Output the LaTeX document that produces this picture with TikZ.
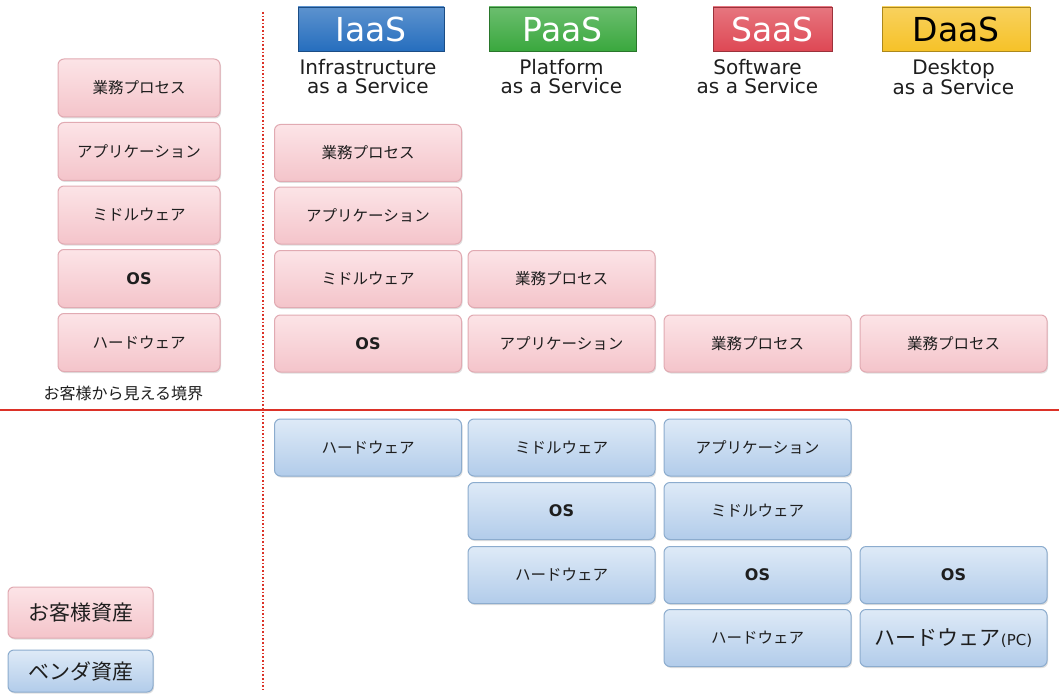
\documentclass[tikz,border=0pt]{standalone}
\usepackage{fontspec}
\setmainfont{DejaVu Sans}
\newfontfamily\jp{Noto Sans CJK JP}
\usetikzlibrary{shadows}
\definecolor{pinkA}{RGB}{252,228,231}
\definecolor{pinkB}{RGB}{244,196,202}
\definecolor{pinkE}{RGB}{225,170,178}
\definecolor{blueA}{RGB}{222,234,247}
\definecolor{blueB}{RGB}{178,204,234}
\definecolor{blueE}{RGB}{140,172,206}
\definecolor{iaasC}{RGB}{38,110,190}
\definecolor{paasC}{RGB}{58,168,62}
\definecolor{saasC}{RGB}{222,72,84}
\definecolor{daasC}{RGB}{246,194,40}
\definecolor{lineR}{RGB}{220,50,40}
\definecolor{txt}{RGB}{30,30,30}
\tikzset{
  base/.style={rounded corners=6pt, draw, line width=1pt, text=txt,
    drop shadow={shadow xshift=1pt, shadow yshift=-1.5pt, opacity=0.25}},
  pbox/.style={base, draw=pinkE, top color=pinkA, bottom color=pinkB,
    font=\jp\fontsize{15.5}{17}\selectfont},
  bbox/.style={base, draw=blueE, top color=blueA, bottom color=blueB,
    font=\jp\fontsize{15.5}{17}\selectfont},
  cw/.style={minimum width=187pt, minimum height=57pt},
  lw/.style={minimum width=162pt, minimum height=58pt},
  hbox/.style={draw=#1!70!black, line width=0.8pt, top color=#1!75!white, bottom color=#1,
    minimum height=44pt, inner sep=0pt, font=\fontsize{33}{35}\selectfont},
  sub/.style={align=center, font=\fontsize{20}{19}\selectfont, text=txt},
  os/.style={font=\bfseries\fontsize{16}{18}\selectfont}
}
\begin{document}
\begin{tikzpicture}[x=1pt,y=-1pt]
\useasboundingbox[fill=white] (0,0) rectangle (1059,695);
% lines
\coordinate (vt) at (263,12); \coordinate (vb) at (263,690);
\coordinate (hl) at (0,410); \coordinate (hr) at (1059,410);
\draw[lineR, line width=1.6pt, dotted] (vt) -- (vb);
\draw[lineR, line width=2pt] (hl) -- (hr);
% left column
\node[pbox,lw] (l1) at (139,88) {業務プロセス};
\node[pbox,lw] (l2) at (139,151.5) {アプリケーション};
\node[pbox,lw] (l3) at (139,215) {ミドルウェア};
\node[pbox,lw,os] (l4) at (139,278.5) {OS};
\node[pbox,lw] (l5) at (139,342.5) {ハードウェア};
\node[anchor=west, font=\jp\fontsize{16}{18}\selectfont, text=txt] (bd) at (40,393) {お客様から見える境界};
% headers
\node[hbox=iaasC, minimum width=146pt, text=white] (hI) at (371,29) {IaaS};
\node[hbox=paasC, minimum width=147pt, text=white] (hP) at (562.5,29) {PaaS};
\node[hbox=saasC, minimum width=119pt, text=white] (hS) at (772.5,29) {SaaS};
\node[hbox=daasC, minimum width=148pt, text=black] (hD) at (956,29) {DaaS};
\node[sub] (sI) at (368,77) {Infrastructure\\as a Service};
\node[sub] (sP) at (561.5,77) {Platform\\as a Service};
\node[sub] (sS) at (757.5,77) {Software\\as a Service};
\node[sub] (sD) at (953.5,77) {Desktop\\as a Service};
% IaaS column
\node[pbox,cw] (i1) at (368,153) {業務プロセス};
\node[pbox,cw] (i2) at (368,215.5) {アプリケーション};
\node[pbox,cw] (i3) at (368,279) {ミドルウェア};
\node[pbox,cw,os] (i4) at (368,343.5) {OS};
\node[bbox,cw] (i5) at (368,447.5) {ハードウェア};
% PaaS column
\node[pbox,cw] (p1) at (561.5,279) {業務プロセス};
\node[pbox,cw] (p2) at (561.5,343.5) {アプリケーション};
\node[bbox,cw] (p3) at (561.5,447.5) {ミドルウェア};
\node[bbox,cw,os] (p4) at (561.5,511) {OS};
\node[bbox,cw] (p5) at (561.5,575) {ハードウェア};
% SaaS column
\node[pbox,cw] (s1) at (757.5,343.5) {業務プロセス};
\node[bbox,cw] (s2) at (757.5,447.5) {アプリケーション};
\node[bbox,cw] (s3) at (757.5,511) {ミドルウェア};
\node[bbox,cw,os] (s4) at (757.5,575) {OS};
\node[bbox,cw] (s5) at (757.5,638) {ハードウェア};
% DaaS column
\node[pbox,cw] (d1) at (953.5,343.5) {業務プロセス};
\node[bbox,cw,os] (d2) at (953.5,575) {OS};
\node[bbox,cw, font=\jp\fontsize{21}{23}\selectfont] (d3) at (953.5,638) {ハードウェア{\rmfamily\fontsize{15}{17}\selectfont(PC)}};
% legend
\node[pbox, minimum width=145pt, minimum height=51pt, font=\jp\fontsize{21}{23}\selectfont] (lg1) at (80.5,612.5) {お客様資産};
\node[bbox, minimum width=145pt, minimum height=42pt, font=\jp\fontsize{21}{23}\selectfont] (lg2) at (80.5,671) {ベンダ資産};
\end{tikzpicture}
\end{document}
